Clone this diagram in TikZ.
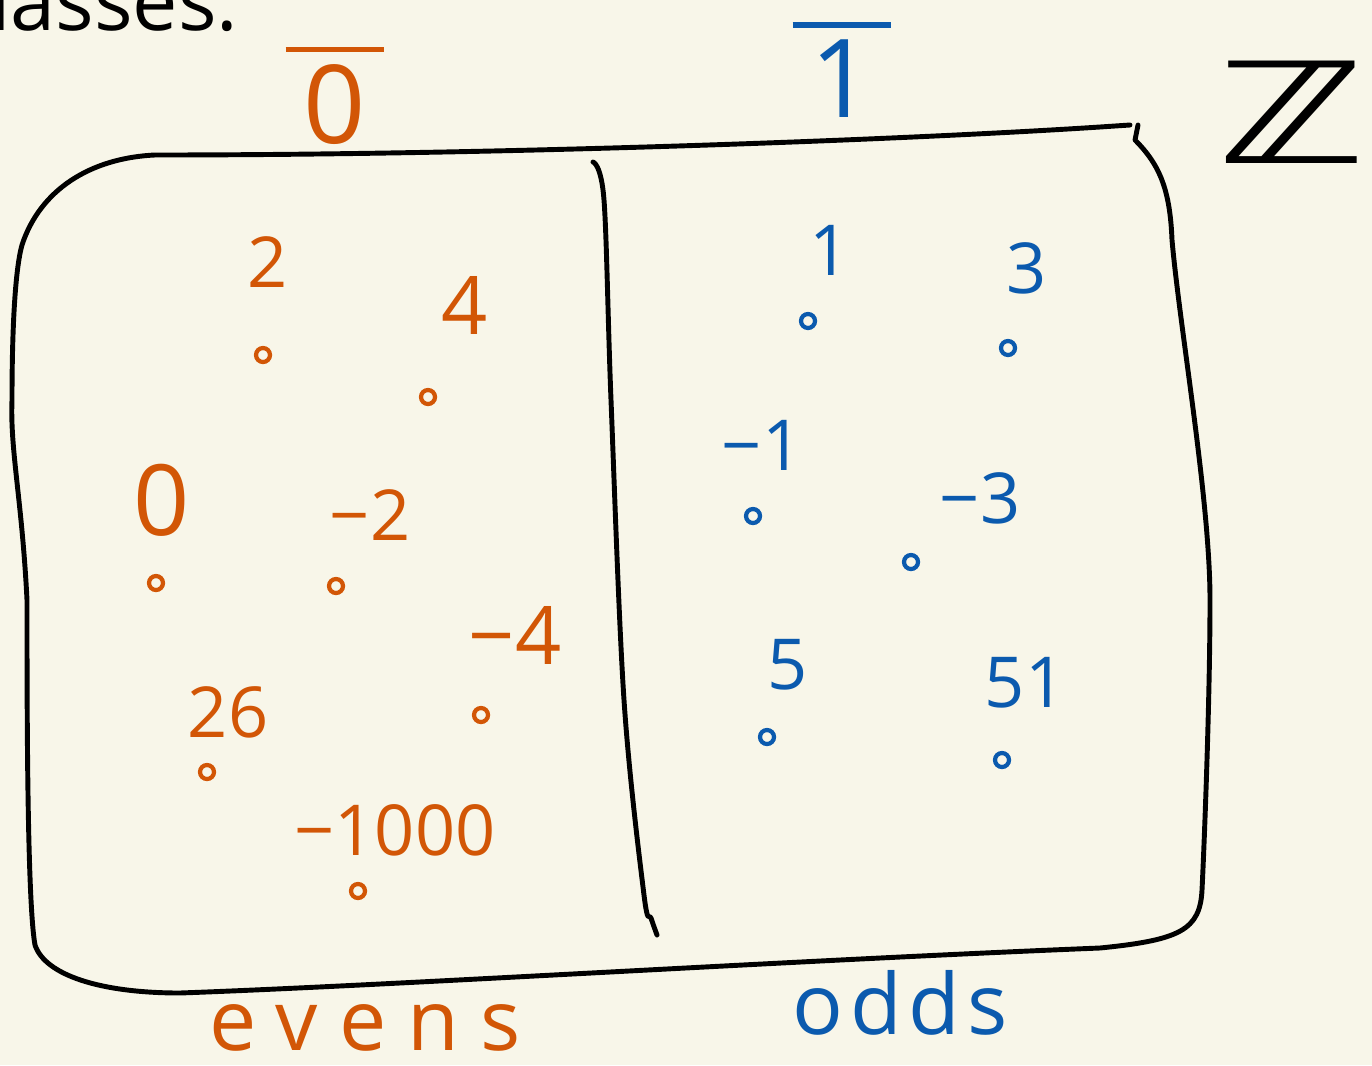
\documentclass[tikz,border=0pt]{standalone}
\usepackage{fontspec}
\setmainfont{Open Sans}
\newfontfamily\dvfont{DejaVu Sans}
\definecolor{bg}{HTML}{F8F6E9}
\definecolor{ev}{HTML}{D25606}
\definecolor{od}{HTML}{0B5AAE}
\newcommand\thickbar[1]{\leavevmode\vbox{\hrule height 3pt\kern 7pt\hbox{#1}}}
\tikzset{
  frame/.style={line width=2.8pt, line cap=round, line join=round},
  evtxt/.style={text=ev, inner sep=0pt, font=\fontsize{40}{48}\selectfont},
  odtxt/.style={text=od, inner sep=0pt, font=\fontsize{40}{48}\selectfont},
  evdot/.style={circle, draw=ev, line width=2.4pt, minimum size=0.28cm, inner sep=0pt},
  oddot/.style={circle, draw=od, line width=2.4pt, minimum size=0.28cm, inner sep=0pt},
}
\begin{document}
\begin{tikzpicture}[x=0.02cm, y=-0.02cm]
\useasboundingbox (0,0) rectangle (1372,1065);
\fill[bg] (0,0) rectangle (1372,1065);
\begin{scope}
\clip (0,0) rectangle (1372,1065);
% header
\node[anchor=base west, inner sep=0pt, font=\fontsize{46}{52}\selectfont] (hdr) at (-10,30) {lasses:};
\node[evtxt, font=\fontsize{62}{70}\selectfont] (zbar) at (335,96) {\thickbar{\,0\,}};
\node[odtxt, font=\fontsize{62}{70}\selectfont] (obar) at (842,70) {\thickbar{\,1\,}};
\node[inner sep=0pt, font=\dvfont\fontsize{80}{90}\selectfont] (zz) at (1292,112) {\scalebox{1.42}[1]{ℤ}};
% frame
\draw[frame] (1138,125) -- (1135,140)
 .. controls (1160,165) and (1170,190) .. (1172,240)
 .. controls (1180,330) and (1210,500) .. (1210,600)
 .. controls (1210,700) and (1204,850) .. (1202,890)
 .. controls (1200,930) and (1180,940) .. (1100,948)
 .. controls (800,960) and (400,985) .. (180,993)
 .. controls (100,993) and (45,975) .. (35,945)
 .. controls (27,900) and (27,700) .. (27,600)
 .. controls (22,500) and (10,450) .. (12,400)
 .. controls (12,330) and (15,270) .. (22,245)
 .. controls (40,190) and (90,158) .. (155,155)
 .. controls (500,155) and (900,140) .. (1100,127)
 -- (1130,125);
% divider
\draw[frame] plot[smooth, tension=0.55] coordinates {
 (593,162) (604,200) (611,400) (624,700) (644,895) (651,918) (657,935)};
\end{scope}
% evens
\node[evtxt] (e2) at (268,262) {2};
\node[evdot] (d2) at (263,355) {};
\node[evtxt, font=\fontsize{46}{52}\selectfont] (e4) at (465,305) {4};
\node[evdot] (d4) at (428,397) {};
\node[evtxt, font=\fontsize{56}{62}\selectfont] (e0) at (162,500) {0};
\node[evdot] (d0) at (156,583) {};
\node[evtxt] (em2) at (370,515) {−2};
\node[evdot] (dm2) at (336,586) {};
\node[evtxt, font=\fontsize{46}{52}\selectfont] (em4) at (515,635) {−4};
\node[evdot] (dm4) at (481,715) {};
\node[evtxt] (e26) at (228,712) {26};
\node[evdot] (d26) at (207,772) {};
\node[evtxt] (em1000) at (395,830) {−1000};
\node[evdot] (dm1000) at (358,891) {};
\node[evtxt, font=\addfontfeatures{LetterSpace=25}\fontsize{48}{56}\selectfont] (evens) at (365,1028) {evens};
% odds
\node[odtxt] (o1) at (830,250) {1};
\node[oddot] (p1) at (808,321) {};
\node[odtxt] (o3) at (1027,268) {3};
\node[oddot] (p3) at (1008,348) {};
\node[odtxt] (om1) at (762,445) {−1};
\node[oddot] (pm1) at (753,516) {};
\node[odtxt] (om3) at (980,498) {−3};
\node[oddot] (pm3) at (911,562) {};
\node[odtxt] (o5) at (788,665) {5};
\node[oddot] (p5) at (767,737) {};
\node[odtxt] (o51) at (1025,683) {51};
\node[oddot] (p51) at (1002,760) {};
\node[odtxt, font=\addfontfeatures{LetterSpace=8}\fontsize{48}{56}\selectfont] (odds) at (900,1003) {odds};
\end{tikzpicture}
\end{document}
